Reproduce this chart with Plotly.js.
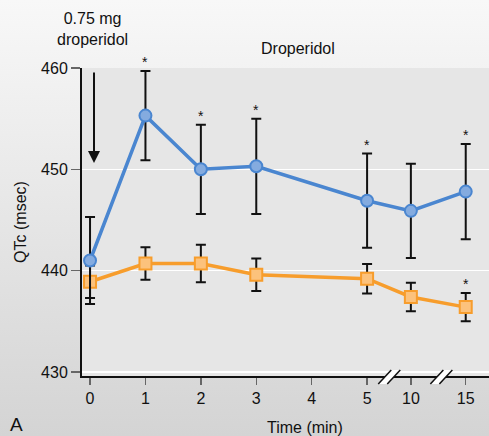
<!DOCTYPE html>
<html><head><meta charset="utf-8">
<script src="https://cdn.plot.ly/plotly-3.0.1.min.js"></script>
<style>
html,body{margin:0;padding:0;width:489px;height:436px;overflow:hidden;background:linear-gradient(#f8f8f8,#d4d4d4);}
#chart{width:489px;height:436px;}
</style>
</head><body><div id="chart"></div>
<script>
// ---- data ----
const times = [0, 1, 2, 3, 5, 10, 15];
const tickTimes = [0, 1, 2, 3, 4, 5, 10, 15];
const tickLabels = ['0', '1', '2', '3', '4', '5', '10', '15'];
const droperidolQTc = [441.0, 455.3, 450.0, 450.3, 446.9, 445.9, 447.8];
const droperidolErr = [4.3, 4.4, 4.4, 4.7, 4.65, 4.65, 4.7];
const droperidolSig = [false, true, true, true, true, false, true];
const controlQTc = [438.9, 440.7, 440.7, 439.6, 439.2, 437.4, 436.4];
const controlErr = [1.6, 1.6, 1.85, 1.6, 1.45, 1.4, 1.4];
const controlSig = [false, false, false, false, false, false, true];
const yTicks = [430, 440, 450, 460];

// broken time axis: 0-5 linear, then compressed segments 5-10 and 10-15
function axisPos(t) {
  if (t <= 5) return t;
  if (t <= 10) return 5 + (t - 5) * 0.79 / 5;
  return 5.79 + (t - 10) * 0.99 / 5;
}
const xs = times.map(axisPos);
const breakPositions = [5.40, 6.34];

const FONT = 'Liberation Sans, Arial, Helvetica, sans-serif';

const traces = [
  {
    x: xs, y: controlQTc, type: 'scatter', mode: 'lines+markers', name: 'Control',
    line: {color: '#f79d2c', width: 3.5},
    marker: {symbol: 'square', size: 12, color: '#fcc27c', line: {color: '#f79d2c', width: 2}},
    error_y: {type: 'data', array: controlErr, visible: true, color: '#111', thickness: 2, width: 5},
    hoverinfo: 'skip'
  },
  {
    x: xs, y: droperidolQTc, type: 'scatter', mode: 'lines+markers', name: 'Droperidol',
    line: {color: '#4a86d0', width: 3.5},
    marker: {symbol: 'circle', size: 12, color: '#84abdf', line: {color: '#4a86d0', width: 2}},
    error_y: {type: 'data', array: droperidolErr, visible: true, color: '#111', thickness: 2, width: 5},
    hoverinfo: 'skip'
  }
];

const annotations = [];
function addStars(vals, errs, sig) {
  sig.forEach((s, i) => {
    if (!s) return;
    annotations.push({x: xs[i], y: vals[i] + errs[i], xref: 'x', yref: 'y', text: '*',
      showarrow: false, yanchor: 'bottom', yshift: -1, font: {family: FONT, size: 14, color: '#111'}});
  });
}
addStars(droperidolQTc, droperidolErr, droperidolSig);
addStars(controlQTc, controlErr, controlSig);

annotations.push(
  {xref: 'paper', yref: 'paper', x: 0.0258, y: 1.1266, text: '0.75 mg<br>droperidol', showarrow: false,
   xanchor: 'center', yanchor: 'middle', font: {family: FONT, size: 16, color: '#111'}},
  {xref: 'paper', yref: 'paper', x: 0.0295, y: 0.6916, text: '', showarrow: true, ax: 0, ay: -92,
   arrowhead: 2, arrowsize: 1.2, arrowwidth: 2, arrowcolor: '#111', standoff: 0},
  {xref: 'paper', yref: 'paper', x: 0.5307, y: 1.0649, text: 'Droperidol', showarrow: false,
   xanchor: 'center', yanchor: 'middle', font: {family: FONT, size: 16, color: '#111'}},
  {xref: 'paper', yref: 'paper', x: 0.548, y: -0.1688, text: 'Time (min)', showarrow: false,
   xanchor: 'center', yanchor: 'middle', font: {family: FONT, size: 16, color: '#111'}},
  {xref: 'paper', yref: 'paper', x: -0.1604, y: -0.158, text: 'A', showarrow: false,
   xanchor: 'center', yanchor: 'middle', font: {family: FONT, size: 19, color: '#111'}}
);

const shapes = [];
breakPositions.forEach(bx => {
  shapes.push(
    {type: 'path', xref: 'x', yref: 'paper', xsizemode: 'pixel', ysizemode: 'pixel', xanchor: bx, yanchor: 0,
     path: 'M-11,-8 L2,6 L11,6 L-2,-8 Z', fillcolor: '#ffffff', line: {width: 0}, layer: 'above'},
    {type: 'line', xref: 'x', yref: 'paper', xsizemode: 'pixel', ysizemode: 'pixel', xanchor: bx, yanchor: 0,
     x0: -11, y0: -8, x1: 2, y1: 6, line: {color: '#111', width: 1.5}, layer: 'above'},
    {type: 'line', xref: 'x', yref: 'paper', xsizemode: 'pixel', ysizemode: 'pixel', xanchor: bx, yanchor: 0,
     x0: -2, y0: -8, x1: 11, y1: 6, line: {color: '#111', width: 1.5}, layer: 'above'}
  );
});

const layout = {
  width: 489, height: 436,
  margin: {l: 82, r: 0, t: 68, b: 60, pad: 0},
  paper_bgcolor: 'rgba(0,0,0,0)',
  plot_bgcolor: '#e6e6e6',
  showlegend: false,
  font: {family: FONT, size: 16, color: '#111'},
  xaxis: {
    range: [-0.145, 7.2], tickvals: tickTimes.map(axisPos), ticktext: tickLabels,
    showline: true, linewidth: 2, linecolor: '#111', ticks: 'outside', ticklen: 7, tickwidth: 1.5,
    tickcolor: '#666', showgrid: false, zeroline: false, tickfont: {family: FONT, size: 16, color: '#111'},
    fixedrange: true
  },
  yaxis: {
    range: [429.6, 460], tickvals: yTicks,
    showline: true, linewidth: 2, linecolor: '#111', ticks: 'outside', ticklen: 9, tickwidth: 1.5,
    tickcolor: '#666', showgrid: true, gridcolor: '#ffffff', gridwidth: 1.5, zeroline: false,
    tickfont: {family: FONT, size: 16, color: '#111'},
    title: {text: 'QTc (msec)', font: {family: FONT, size: 16, color: '#111'}, standoff: 10},
    fixedrange: true
  },
  annotations: annotations,
  shapes: shapes
};

Plotly.newPlot('chart', traces, layout, {displayModeBar: false, staticPlot: true});
</script>
</body></html>
